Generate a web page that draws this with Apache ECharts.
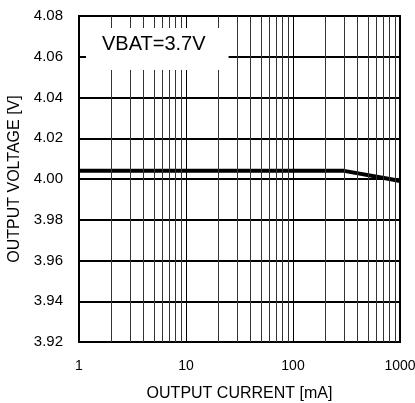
<!DOCTYPE html>
<html><head><meta charset="utf-8">
<script src="https://cdn.jsdelivr.net/npm/echarts@6/dist/echarts.min.js"></script>
<style>html,body{margin:0;padding:0;background:#fff}#c{width:415px;height:403px}</style>
</head><body><div id="c"></div>
<script>
const currentMA = [1, 300, 800, 1000];
const voltageV = [4.004, 4.004, 4.0, 3.999];
const minorGridCurrents = [2,3,4,5,6,7,8,9,20,30,40,50,60,70,80,90,200,300,400,500,600,700,800,900];
const yTickMin = 3.92, yTickMax = 4.08, yTickStep = 0.02;
const xTickLabels = ['1','10','100','1000'];
const annotation = 'VBAT=3.7V';

const chart = echarts.init(document.getElementById('c'), null, {renderer:'canvas'});
const font = 'Liberation Sans, Arial, sans-serif';
chart.setOption({
  animation: false,
  backgroundColor: '#fff',
  title: {
    text: annotation, left: 86, top: 28,
    backgroundColor: '#fff',
    padding: [5, 23, 15, 16],
    textStyle: {fontFamily: font, fontSize: 20, fontWeight: 'normal', color: '#000', lineHeight: 22}
  },
  grid: {left: 79, right: 15, top: 16, bottom: 61, show: true, borderColor: '#000', borderWidth: 2,
         containLabel: false, outerBoundsMode: 'none'},
  xAxis: {
    type: 'log', logBase: 10, min: 1, max: 1000,
    name: 'OUTPUT CURRENT [mA]', nameLocation: 'middle', nameGap: 44,
    nameTextStyle: {fontFamily: font, fontSize: 16, color: '#000'},
    axisLine: {show: true, lineStyle: {color: '#000', width: 2}},
    axisTick: {show: false},
    axisLabel: {fontFamily: font, fontSize: 14, color: '#000', margin: 17,
      formatter: v => { const s = String(Math.round(v)); return xTickLabels.includes(s) ? s : ''; }},
    splitLine: {show: true, lineStyle: {color: '#000', width: 1}}
  },
  yAxis: {
    type: 'value', min: yTickMin, max: yTickMax, interval: yTickStep,
    name: 'OUTPUT VOLTAGE [V]', nameLocation: 'middle', nameGap: 49,
    nameTextStyle: {fontFamily: font, fontSize: 16, color: '#000'},
    axisLine: {show: true, lineStyle: {color: '#000', width: 2}},
    axisTick: {show: false},
    axisLabel: {fontFamily: font, fontSize: 15, color: '#000', margin: 16, formatter: v => v.toFixed(2)},
    splitLine: {show: true, lineStyle: {color: '#000', width: 2}}
  },
  series: [{
    type: 'line',
    data: currentMA.map((x, i) => [x, voltageV[i]]),
    symbol: 'none',
    lineStyle: {color: '#000', width: 4},
    z: 3,
    markLine: {
      silent: true, symbol: 'none', label: {show: false},
      lineStyle: {color: '#333', width: 1, type: 'solid'},
      data: minorGridCurrents.map(x => ({xAxis: x}))
    }
  }]
});
</script></body></html>
